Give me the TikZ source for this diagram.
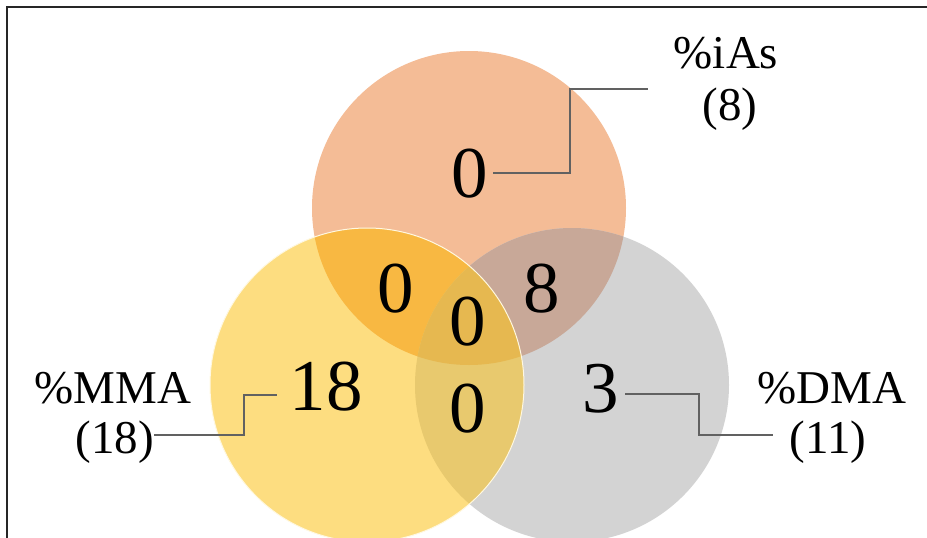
\documentclass[tikz,border=0pt]{standalone}
\usepackage{fontspec}
\setmainfont{Liberation Serif}
\definecolor{cOr}{RGB}{244,188,150}
\definecolor{cYe}{RGB}{253,221,128}
\definecolor{cGr}{RGB}{211,211,211}
\definecolor{cOY}{RGB}{248,184,66}
\definecolor{cOG}{RGB}{200,168,152}
\definecolor{cYG}{RGB}{232,201,110}
\definecolor{cCe}{RGB}{230,184,80}
\definecolor{cRim}{RGB}{255,248,225}
\begin{document}
\begin{tikzpicture}[x=1pt,y=-1pt,
  num/.style={inner sep=0pt, anchor=base, font=\fontsize{73}{73}\selectfont},
  lab/.style={inner sep=0pt, anchor=base, font=\fontsize{47}{50}\selectfont},
  leader/.style={draw=black!62, line width=1.4pt},
  frameline/.style={draw=black!85, line width=2pt}]
\useasboundingbox (0,0) rectangle (927,538);
% circle centres
\coordinate (O) at (469,208);
\coordinate (Y) at (367,385);
\coordinate (G) at (572,385);
\def\rr{157pt}
% single regions
\fill[cOr] (O) circle[radius=\rr];
\fill[cGr] (G) circle[radius=\rr];
\fill[cYe] (Y) circle[radius=\rr];
% pairwise overlaps
\begin{scope}\clip (O) circle[radius=\rr]; \fill[cOG] (G) circle[radius=\rr];\end{scope}
\begin{scope}\clip (O) circle[radius=\rr]; \fill[cOY] (Y) circle[radius=\rr];\end{scope}
\begin{scope}\clip (G) circle[radius=\rr]; \fill[cYG] (Y) circle[radius=\rr];\end{scope}
% triple overlap
\begin{scope}\clip (O) circle[radius=\rr]; \clip (G) circle[radius=\rr]; \fill[cCe] (Y) circle[radius=\rr];\end{scope}
\draw[cRim, line width=1pt] (Y) circle[radius=\rr];
% frame
\draw[frameline] (7,538) -- (7,7) -- (927,7);
% numbers
\node[num] (n0) at (470,197) {0};
\node[num] (nOY) at (396,312) {0};
\node[num] (n8) at (542,312) {8};
\node[num] (nC) at (468,345) {0};
\node[num] (nYG) at (468,432) {0};
\node[num] (n18) at (326,410) {18};
\node[num] (n3) at (601,412) {3};
% labels
\node[lab] (lI) at (726,68) {\%iAs};
\node[lab] (lI2) at (730,120) {(8)};
\node[lab] (lM) at (113,403) {\%MMA};
\node[lab] (lM2) at (115,453) {(18)};
\node[lab] (lD) at (832,403) {\%DMA};
\node[lab] (lD2) at (828,453) {(11)};
% leader lines
\coordinate (iAc) at (570,89);
\coordinate (iAe) at (648,89);
\draw[leader] ([xshift=5pt]n0.east) -| (iAc) -- (iAe);
\coordinate (mA) at (244,435);
\coordinate (mB) at (244,395);
\draw[leader] (lM2.east |- mA) -- (mA) -- (mB) -- ([xshift=-12pt]n18.west |- mB);
\coordinate (dA) at (699,394);
\coordinate (dB) at (699,435);
\draw[leader] ([xshift=6pt]n3.east |- dA) -- (dA) -- (dB) -- ([xshift=-17pt]lD2.west |- dB);
\end{tikzpicture}
\end{document}
